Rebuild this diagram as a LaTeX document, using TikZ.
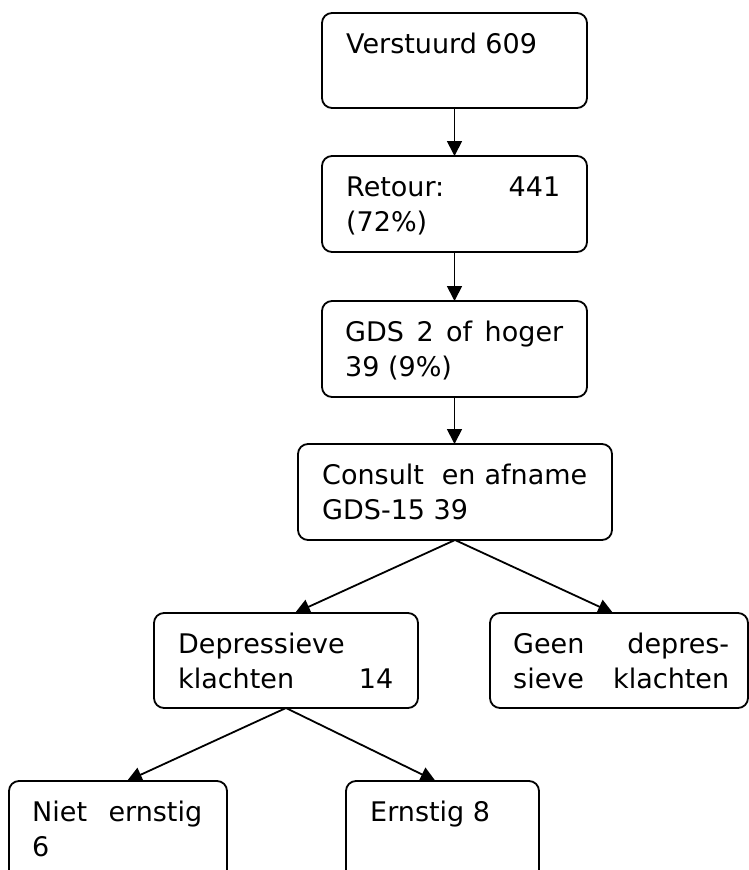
\documentclass[tikz,border=0pt]{standalone}
\usepackage{fontspec}
\setmainfont{DejaVu Sans}
\usetikzlibrary{arrows.meta,calc}
\begin{document}
\begin{tikzpicture}[x=1pt,y=-1pt,
  box/.style={draw,line width=1.8pt,rounded corners=10pt,inner sep=0pt,outer sep=0pt},
  txt/.style={anchor=base west,inner sep=0pt,font=\fontsize{27}{35}\selectfont},
  arr/.style={line width=1.8pt,-{Triangle[length=15pt,width=15pt]}}]
\useasboundingbox (0,0) rectangle (749,870);
\clip (0,0) rectangle (749,870);
% boxes
\node[box,minimum width=265pt,minimum height=95pt] (b1) at (454.5,60.5) {};
\node[box,minimum width=265pt,minimum height=96pt] (b2) at (454.5,204) {};
\node[box,minimum width=265pt,minimum height=96pt] (b3) at (454.5,349) {};
\node[box,minimum width=314pt,minimum height=96pt] (b4) at (455,492) {};
\node[box,minimum width=264pt,minimum height=95pt] (b5) at (286,660.5) {};
\node[box,minimum width=258pt,minimum height=95pt] (b6) at (619,660.5) {};
\node[box,minimum width=218pt,minimum height=100pt] (b7) at (118,831) {};
\node[box,minimum width=193pt,minimum height=100pt] (b8) at (442.5,831) {};
% texts
\node[txt] (t1a) at ($(b1.north west)+(24,40)$) {Verstuurd 609};
\node[txt] (t2a) at ($(b2.north west)+(24,40)$) {\makebox[214pt][l]{Retour:\hfill 441}};
\node[txt] (t2b) at ($(b2.north west)+(24,75)$) {(72\%)};
\node[txt] (t3a) at ($(b3.north west)+(23,40)$) {\makebox[218pt][s]{GDS 2 of hoger}};
\node[txt] (t3b) at ($(b3.north west)+(23,75)$) {39 (9\%)};
\node[txt] (t4a) at ($(b4.north west)+(24,40)$) {\makebox[265pt][s]{Consult \ en afname}};
\node[txt] (t4b) at ($(b4.north west)+(24,75)$) {GDS-15 39};
\node[txt] (t5a) at ($(b5.north west)+(24,40)$) {Depressieve};
\node[txt] (t5b) at ($(b5.north west)+(24,75)$) {\makebox[215pt][l]{klachten\hfill 14}};
\node[txt] (t6a) at ($(b6.north west)+(23,40)$) {\makebox[216pt][s]{Geen depres-}};
\node[txt] (t6b) at ($(b6.north west)+(23,75)$) {\makebox[216pt][s]{sieve klachten}};
\node[txt] (t7a) at ($(b7.north west)+(23,40)$) {\makebox[170pt][s]{Niet ernstig}};
\node[txt] (t7b) at ($(b7.north west)+(23,75)$) {6};
\node[txt] (t8a) at ($(b8.north west)+(24,40)$) {Ernstig 8};
% arrows
\draw[arr] (b1.south) -- (b2.north);
\draw[arr] (b2.south) -- (b3.north);
\draw[arr] (b3.south) -- (b4.north -| b3.south);
\draw[arr] (b4.south) -- ($(b5.north)+(9,0)$);
\draw[arr] (b4.south) -- ($(b6.north)+(-6,0)$);
\draw[arr] (b5.south) -- ($(b7.north)+(9,0)$);
\draw[arr] (b5.south) -- ($(b8.north)+(-7,0)$);
\end{tikzpicture}
\end{document}
